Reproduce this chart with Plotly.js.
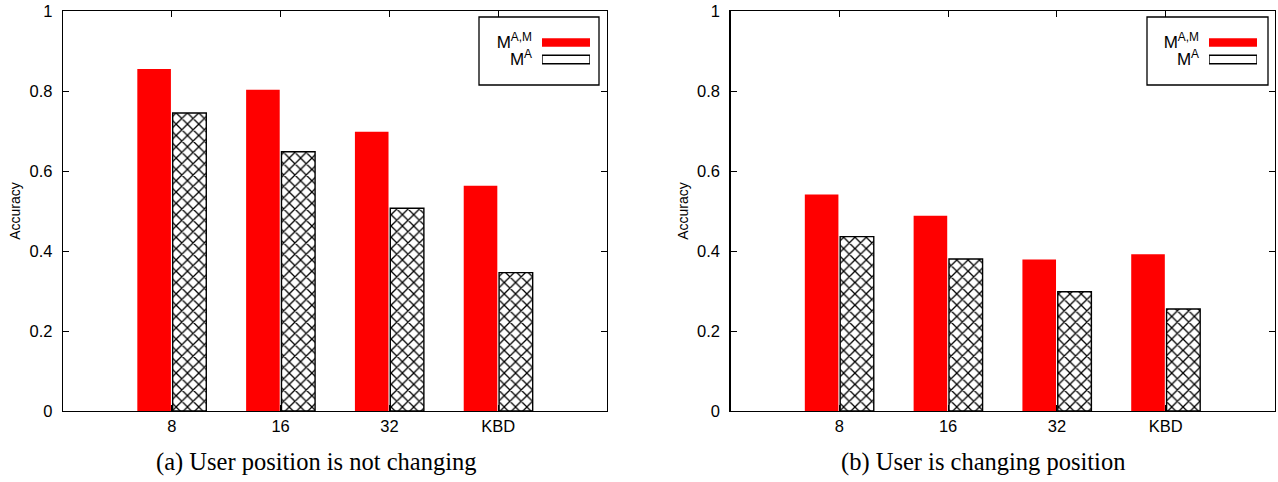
<!DOCTYPE html>
<html>
<head>
<meta charset="utf-8">
<script src="https://cdn.plot.ly/plotly-3.0.1.min.js"></script>
<style>
  html, body { margin: 0; padding: 0; background: #fff; }
  #chart { width: 1278px; height: 482px; }
</style>
</head>
<body>
<div id="chart"></div>
<script>
// ---- Data ----
const categories = ['8', '16', '32', 'KBD'];
const staticMAM = [0.855, 0.803, 0.698, 0.563];   // (a) M^{A,M}
const staticMA  = [0.745, 0.648, 0.507, 0.346];   // (a) M^{A}
const movingMAM = [0.541, 0.488, 0.379, 0.392];   // (b) M^{A,M}
const movingMA  = [0.436, 0.380, 0.298, 0.255];   // (b) M^{A}
const seriesNames = ['M<sup>A,M</sup>', 'M<sup>A</sup>'];
const legendSwatch = [1, 1];
const yTicks = [0, 0.2, 0.4, 0.6, 0.8, 1];
const captions = ['(a) User position is not changing', '(b) User is changing position'];
const yTitle = 'Accuracy';

// ---- Geometry helpers (pixel -> paper) ----
const W = 1278, H = 482;
const px = v => v / W;
const py = v => 1 - v / H;

const RED = '#ff0000';
const hatch = {shape: 'x', fgcolor: '#000', bgcolor: '#fff', size: 8, solidity: 0.3, fillmode: 'replace'};

function redTrace(vals, xa, ya) {
  return {type: 'bar', x: categories, y: vals, xaxis: xa, yaxis: ya, name: seriesNames[0],
    marker: {color: RED, line: {width: 0}}, hoverinfo: 'skip'};
}
function hatchTrace(vals, xa, ya) {
  return {type: 'bar', x: categories, y: vals, xaxis: xa, yaxis: ya, name: seriesNames[1],
    marker: {color: '#fff', line: {color: '#000', width: 1.4}, pattern: hatch}, hoverinfo: 'skip'};
}
function legendTrace(xa, ya) {
  return {type: 'bar', orientation: 'h', x: legendSwatch, y: seriesNames, xaxis: xa, yaxis: ya,
    width: 0.5, hoverinfo: 'skip',
    marker: {color: [RED, '#fff'], line: {color: [RED, '#000'], width: [0, 1.4]},
      pattern: {shape: ['', 'x'], fgcolor: '#000', bgcolor: '#fff', size: 8, solidity: 0.3, fillmode: 'replace'}}};
}

const data = [
  redTrace(staticMAM, 'x', 'y'), hatchTrace(staticMA, 'x', 'y'),
  redTrace(movingMAM, 'x2', 'y2'), hatchTrace(movingMA, 'x2', 'y2'),
  legendTrace('x3', 'y3'), legendTrace('x4', 'y4')
];

const yDomain = [py(411), py(11)];
function xAxis(domain, anchor) {
  return {domain: domain, anchor: anchor, type: 'category', range: [-1, 4],
    showline: true, linecolor: '#000', linewidth: 1.3, mirror: 'ticks',
    ticks: 'inside', ticklen: 6, tickwidth: 1, tickcolor: '#000',
    tickfont: {size: 16.5, color: '#000'}, ticklabelstandoff: 0,
    showgrid: false, zeroline: false, fixedrange: true};
}
function yAxis(anchor) {
  return {domain: yDomain, anchor: anchor, range: [0, 1], tickvals: yTicks,
    showline: true, linecolor: '#000', linewidth: 1.3, mirror: 'ticks',
    ticks: 'inside', ticklen: 6, tickwidth: 1, tickcolor: '#000',
    tickfont: {size: 16.5, color: '#000'}, ticklabelstandoff: 6,
    showgrid: false, zeroline: false, fixedrange: true,
    title: {text: yTitle, font: {size: 14, color: '#000'}, standoff: 5}};
}
function legX(domain, anchor) {
  return {domain: domain, anchor: anchor, range: [0, 1], visible: false, fixedrange: true};
}
function legY(anchor) {
  return {domain: [py(68), py(34)], anchor: anchor, type: 'category', autorange: 'reversed',
    tickmode: 'linear', tick0: 0, dtick: 1,
    showline: false, ticks: '', showgrid: false, zeroline: false, fixedrange: true,
    tickfont: {size: 17, color: '#000'}, ticklabelstandoff: 9};
}

const layout = {
  width: W, height: H,
  margin: {l: 0, r: 0, t: 0, b: 0, pad: 0},
  paper_bgcolor: '#fff', plot_bgcolor: '#fff',
  showlegend: false,
  font: {family: '"Liberation Sans", Arial, Helvetica, sans-serif', color: '#000'},
  barmode: 'group', bargap: 0.35, bargroupgap: 0.05,
  xaxis: xAxis([px(63), px(607)], 'y'),
  yaxis: yAxis('x'),
  xaxis2: xAxis([px(730.5), px(1274.5)], 'y2'),
  yaxis2: yAxis('x2'),
  xaxis3: legX([px(542), px(590)], 'y3'),
  yaxis3: legY('x3'),
  xaxis4: legX([px(1209), px(1257)], 'y4'),
  yaxis4: legY('x4'),
  shapes: [
    {type: 'rect', xref: 'paper', yref: 'paper', x0: px(479), x1: px(599), y0: py(85), y1: py(17),
     line: {color: '#000', width: 1.3}, fillcolor: 'rgba(0,0,0,0)', layer: 'above'},
    {type: 'rect', xref: 'paper', yref: 'paper', x0: px(1147), x1: px(1268), y0: py(85), y1: py(17),
     line: {color: '#000', width: 1.3}, fillcolor: 'rgba(0,0,0,0)', layer: 'above'}
  ],
  annotations: [
    {text: captions[0], xref: 'paper', yref: 'paper', x: px(316.5), y: py(462), xanchor: 'center', yanchor: 'middle',
     showarrow: false, font: {family: '"Liberation Serif", "Times New Roman", serif', size: 24.5, color: '#000'}},
    {text: captions[1], xref: 'paper', yref: 'paper', x: px(983), y: py(462), xanchor: 'center', yanchor: 'middle',
     showarrow: false, font: {family: '"Liberation Serif", "Times New Roman", serif', size: 24.5, color: '#000'}}
  ]
};

Plotly.newPlot('chart', data, layout, {displayModeBar: false, staticPlot: true});
</script>
</body>
</html>
